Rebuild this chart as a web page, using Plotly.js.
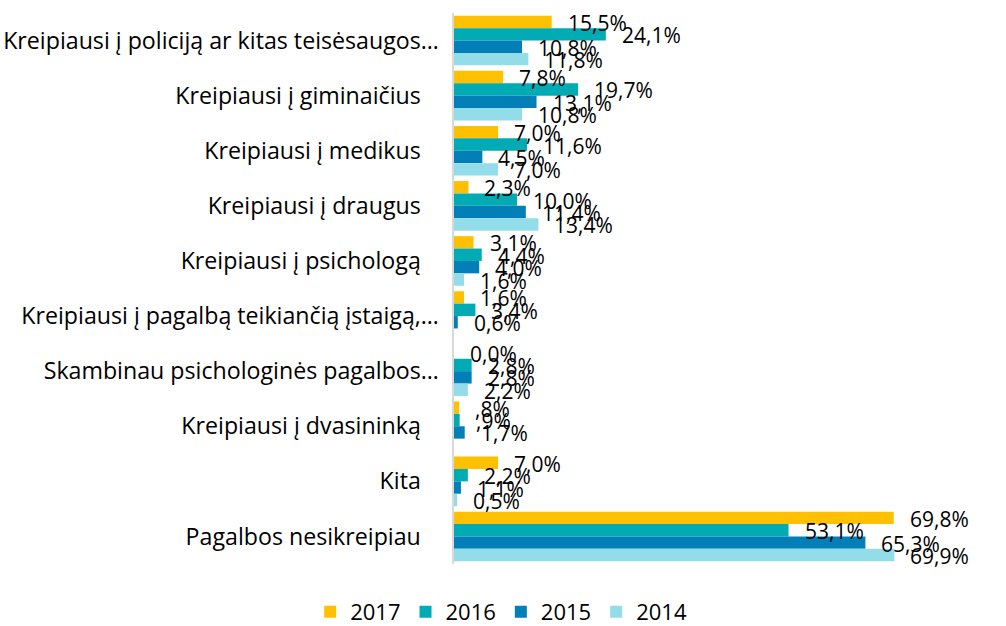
<!DOCTYPE html>
<html>
<head>
<meta charset="utf-8">
<script src="https://cdn.plot.ly/plotly-3.0.1.min.js"></script>
<style>html,body{margin:0;padding:0;background:#fff;}#chart{width:1006px;height:626px;}</style>
</head>
<body>
<div id="chart"></div>
<script>
const categories = [
  "Kreipiausi į policiją ar kitas teisėsaugos…",
  "Kreipiausi į giminaičius",
  "Kreipiausi į medikus",
  "Kreipiausi į draugus",
  "Kreipiausi į psichologą",
  "Kreipiausi į pagalbą teikiančią įstaigą,…",
  "Skambinau psichologinės pagalbos…",
  "Kreipiausi į dvasininką",
  "Kita",
  "Pagalbos nesikreipiau"
];
const seriesNames = ["2017", "2016", "2015", "2014"];
const v2017 = [15.5, 7.8, 7.0, 2.3, 3.1, 1.6, 0.0, 0.8, 7.0, 69.8];
const v2016 = [24.1, 19.7, 11.6, 10.0, 4.4, 3.4, 2.8, 0.9, 2.2, 53.1];
const v2015 = [10.8, 13.1, 4.5, 11.4, 4.0, 0.6, 2.8, 1.7, 1.1, 65.3];
const v2014 = [11.8, 10.8, 7.0, 13.4, 1.6, null, 2.2, null, 0.5, 69.9];
const l2017 = ["15,5%", "7,8%", "7,0%", "2,3%", "3,1%", "1,6%", "0,0%", ",8%", "7,0%", "69,8%"];
const l2016 = ["24,1%", "19,7%", "11,6%", "10,0%", "4,4%", "3,4%", "2,8%", ",9%", "2,2%", "53,1%"];
const l2015 = ["10,8%", "13,1%", "4,5%", "11,4%", "4,0%", "0,6%", "2,8%", "1,7%", "1,1%", "65,3%"];
const l2014 = ["11,8%", "10,8%", "7,0%", "13,4%", "1,6%", "", "2,2%", "", "0,5%", "69,9%"];
const colors = ["#FFC000", "#00ABB4", "#027FB6", "#93DCEA"];

const values = [v2017, v2016, v2015, v2014];
const labels = [l2017, l2016, l2015, l2014];

const traces = values.map((vals, i) => ({
  type: "bar",
  orientation: "h",
  name: seriesNames[i],
  x: vals,
  y: categories,
  marker: { color: colors[i] },
  hoverinfo: "x+name"
}));

const annotations = [];
values.forEach((vals, i) => {
  vals.forEach((v, j) => {
    if (v === null) return;
    annotations.push({
      x: v, y: categories[j], xref: "x", yref: "y",
      text: labels[i][j], showarrow: false,
      xanchor: "left", yanchor: "middle",
      xshift: 14, yshift: (1.5 - i) * 12.4 - 1,
      font: { family: "Open Sans", size: 21, color: "#000" }
    });
  });
});

const ticktext = categories.map(c => c.endsWith("…") ? c : c + "\u00a0\u00a0\u00a0");

const layout = {
  width: 1006, height: 626,
  margin: { l: 454, r: 111, t: 13, b: 62, pad: 0, autoexpand: false },
  paper_bgcolor: "#fff", plot_bgcolor: "#fff",
  barmode: "group", bargap: 0.1, bargroupgap: 0,
  font: { family: "Open Sans", color: "#000" },
  xaxis: { range: [0, 70], autorange: false, visible: false, showgrid: false, zeroline: false, fixedrange: true },
  yaxis: {
    type: "category", range: [9.5, -0.5], autorange: false,
    tickmode: "array", tickvals: categories, ticktext: ticktext,
    ticks: "", showgrid: false, zeroline: false,
    showline: true, linecolor: "#D9D9D9", linewidth: 2.5,
    ticklabelstandoff: 8,
    tickfont: { family: "Open Sans", size: 23.2, color: "#000" }
  },
  showlegend: true,
  legend: {
    orientation: "h", x: 0.107, xanchor: "center", y: -0.087, yanchor: "middle",
    font: { family: "Open Sans", size: 22, color: "#000" },
    itemwidth: 30, traceorder: "normal"
  },
  annotations: annotations
};

Plotly.newPlot("chart", traces, layout, { displayModeBar: false, staticPlot: true });
</script>
</body>
</html>
